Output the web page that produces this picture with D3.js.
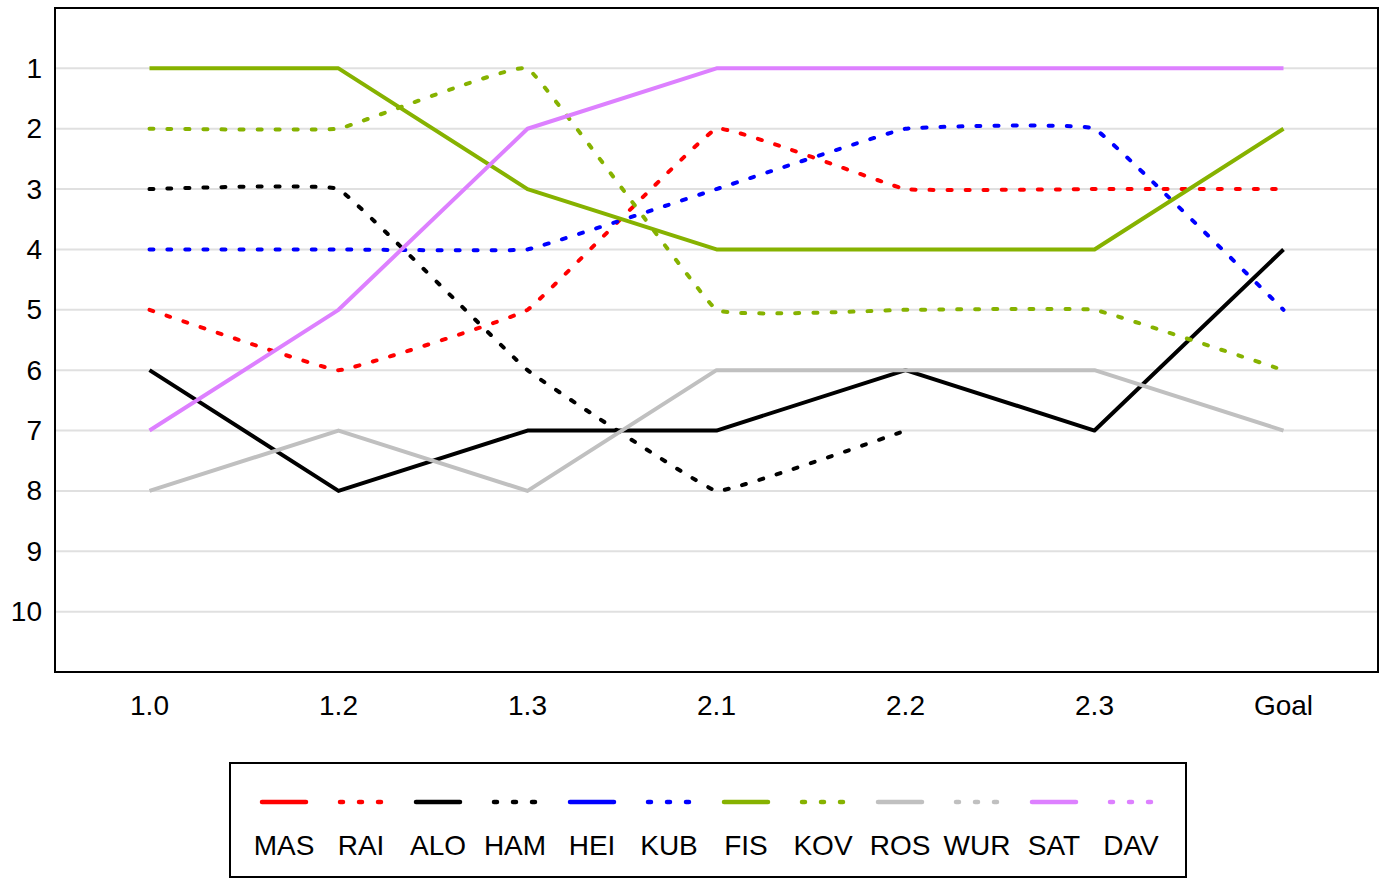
<!DOCTYPE html>
<html>
<head>
<meta charset="utf-8">
<script src="https://cdn.jsdelivr.net/npm/d3@7"></script>
<style>
  body { margin: 0; background: #fff; }
  svg { display: block; font-family: "Liberation Sans", Arial, sans-serif; }
</style>
</head>
<body>
<div id="chart_div"></div>
<script>
// race stages and ranking per driver (null = no entry)
var stages = ["1.0", "1.2", "1.3", "2.1", "2.2", "2.3", "Goal"];
var rankTicks = [1, 2, 3, 4, 5, 6, 7, 8, 9, 10];

var MAS = [null, null, null, null, null, null, null];
var RAI = [5, 6, 5, 2, 3, 3, 3];
var ALO = [6, 8, 7, 7, 6, 7, 4];
var HAM = [3, 3, 6, 8, 7, null, null];
var HEI = [null, null, null, null, null, null, null];
var KUB = [4, 4, 4, 3, 2, 2, 5];
var FIS = [1, 1, 3, 4, 4, 4, 2];
var KOV = [2, 2, 1, 5, 5, 5, 6];
var ROS = [8, 7, 8, 6, 6, 6, 7];
var WUR = [null, null, null, null, null, null, null];
var SAT = [7, 5, 2, 1, 1, 1, 1];
var DAV = [null, null, null, null, null, null, null];

var drivers = ["MAS", "RAI", "ALO", "HAM", "HEI", "KUB", "FIS", "KOV", "ROS", "WUR", "SAT", "DAV"];
var values = [MAS, RAI, ALO, HAM, HEI, KUB, FIS, KOV, ROS, WUR, SAT, DAV];

// styling: pairs share a colour, second one dotted
var teamColors = ["#ff0000", "#000000", "#0000ff", "#86b200", "#c0c0c0", "#dd80ff"];

var series = drivers.map(function (name, i) {
    return {
        name: name,
        values: values[i],
        color: teamColors[Math.floor(i / 2)],
        dotted: i % 2 == 1
    };
});

var width = 1384, height = 878;
var plot = { left: 55, right: 1378, top: 8, bottom: 672 };
var fontSize = 28;

var svg = d3.select("#chart_div").append("svg")
    .attr("width", width)
    .attr("height", height);

var x = d3.scaleBand()
    .domain(stages)
    .range([plot.left, plot.right]);

var y = d3.scaleLinear()
    .domain([0, 11])
    .range([plot.top, plot.bottom]);

// gridlines
svg.append("g")
    .selectAll("line")
    .data(rankTicks)
    .enter().append("line")
    .attr("x1", plot.left)
    .attr("x2", plot.right)
    .attr("y1", d => y(d))
    .attr("y2", d => y(d))
    .style("stroke", "#e0e0e0")
    .style("stroke-width", "2px");

// axes, no tick marks
var yAxis = svg.append("g")
    .attr("transform", "translate(" + plot.left + ",0)")
    .call(d3.axisLeft(y).tickValues(rankTicks).tickSize(0).tickPadding(13));
yAxis.select(".domain").remove();
yAxis.selectAll("text")
    .attr("font-size", fontSize)
    .attr("font-family", "'Liberation Sans', Arial, sans-serif")
    .attr("fill", "#000");

var xAxis = svg.append("g")
    .attr("transform", "translate(0," + plot.bottom + ")")
    .call(d3.axisBottom(x).tickSize(0).tickPadding(23));
xAxis.select(".domain").remove();
xAxis.selectAll("text")
    .attr("font-size", fontSize)
    .attr("font-family", "'Liberation Sans', Arial, sans-serif")
    .attr("fill", "#000");

// lines - dotted ones get slightly rounded corners
function lineFor(s) {
    return d3.line()
        .defined(d => d != null)
        .x((d, i) => x(stages[i]) + x.bandwidth() / 2)
        .y(d => y(d))
        .curve(s.dotted ? d3.curveCardinal.tension(0.8) : d3.curveLinear);
}

svg.append("g")
    .selectAll("path")
    .data(series.filter(s => s.values.some(v => v != null)))
    .enter().append("path")
    .attr("d", s => lineFor(s)(s.values))
    .style("fill", "none")
    .style("stroke", s => s.color)
    .style("stroke-width", "4px")
    .style("stroke-linecap", s => s.dotted ? "round" : "butt")
    .style("stroke-linejoin", "round")
    .style("stroke-dasharray", s => s.dotted ? "4,14" : null);

// plot frame
svg.append("rect")
    .attr("x", plot.left)
    .attr("y", plot.top)
    .attr("width", plot.right - plot.left)
    .attr("height", plot.bottom - plot.top)
    .style("fill", "none")
    .style("stroke", "#000")
    .style("stroke-width", "2px");

// legend
var legend = svg.append("g").attr("class", "legend");
legend.append("rect")
    .attr("x", 230)
    .attr("y", 763)
    .attr("width", 956)
    .attr("height", 114)
    .style("fill", "#fff")
    .style("stroke", "#000")
    .style("stroke-width", "2px");

var legendX = d3.scalePoint()
    .domain(drivers)
    .range([284, 1131]);

var items = legend.selectAll("g.item")
    .data(series)
    .enter().append("g")
    .attr("class", "item")
    .attr("transform", d => "translate(" + legendX(d.name) + ",0)");

items.append("line")
    .attr("x1", d => d.dotted ? -21 : -22)
    .attr("x2", d => d.dotted ? 21 : 22)
    .attr("y1", 802)
    .attr("y2", 802)
    .style("stroke", d => d.color)
    .style("stroke-width", "4.5px")
    .style("stroke-linecap", "round")
    .style("stroke-dasharray", d => d.dotted ? "3,16" : null);

items.append("text")
    .attr("y", 855)
    .attr("text-anchor", "middle")
    .attr("font-size", fontSize)
    .attr("fill", "#000")
    .text(d => d.name);
</script>
</body>
</html>
